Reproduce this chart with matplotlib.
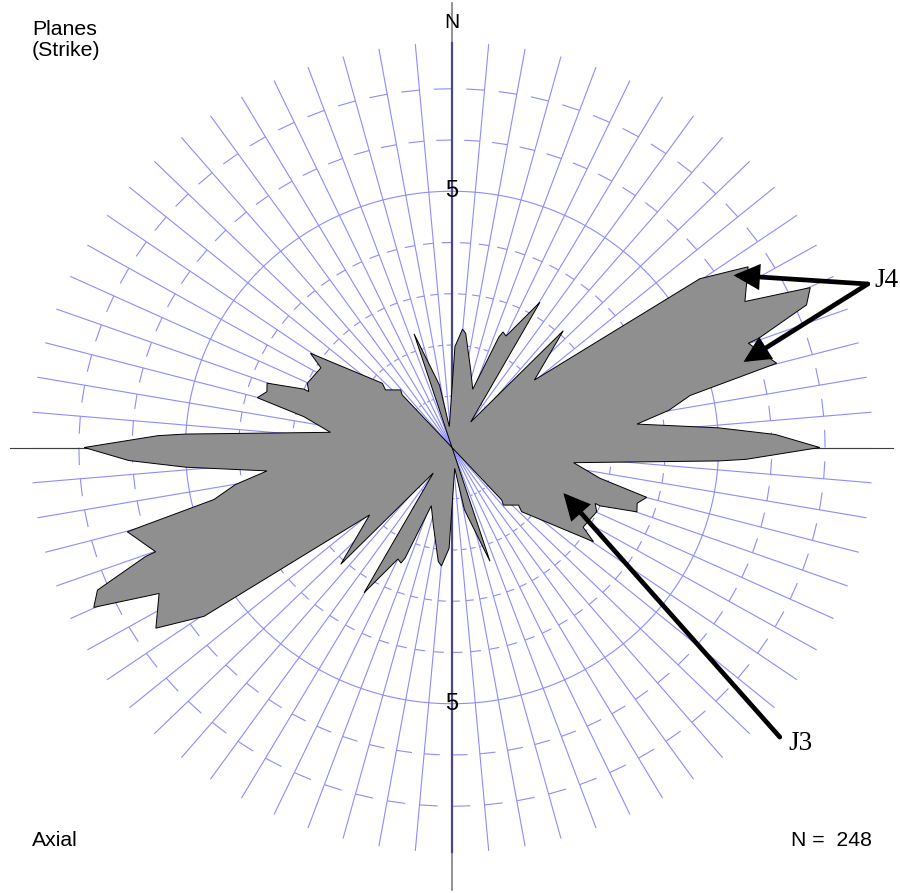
import matplotlib.pyplot as plt
from matplotlib.collections import LineCollection
from matplotlib.patches import Polygon
import numpy as np

# rose outline for the 0-180 half (azimuth clockwise from N, value);
# axial data, so the other half is the same shifted by 180 deg
azimuth = [352.9, 1.6, 4.9, 6.6, 13.1, 18.9, 22.2, 23.0, 25.0, 30.2,
           35.2, 42.5, 49.6, 54.7, 57.6, 62.6, 65.1, 67.3, 69.7, 69.9,
           74.9, 77.2, 79.9, 82.5, 85.6, 87.6, 90.0, 92.4, 93.0, 97.4,
           102.2, 104.9, 107.4, 109.9, 112.3, 112.1, 114.8, 122.3, 124.7, 133.8,
           132.0, 139.4, 137.7, 145.0, 162.2, 169.1]
value = [0.41, 1.97, 2.32, 2.24, 1.55, 1.20, 2.33, 2.45, 2.40, 3.28,
         0.61, 3.09, 2.03, 5.70, 6.58, 6.19, 7.41, 7.21, 6.13, 5.92,
         6.31, 4.58, 4.13, 3.50, 5.01, 6.07, 6.90, 5.52, 5.01, 2.30,
         2.84, 3.78, 3.64, 3.69, 3.00, 2.90, 2.99, 2.91, 3.23, 1.81,
         1.68, 1.48, 1.39, 0.0, 2.33, 1.24]

spokes = np.arange(0, 360, 5)
tick_rings = [1, 2, 3, 4, 6, 7]
label_ring = 5
r_out = 7.9
n_total = 248

# joint sets: label position and arrow targets (x, y in plot units)
j4_label = (7.92, 3.25)
j4_tail = (7.80, 3.19)
j4_heads = [(5.28, 3.36), (5.47, 1.67)]
j3_label = (6.32, -5.77)
j3_tail = (6.15, -5.65)
j3_heads = [(2.09, -0.89)]


def xy(az, r):
    a = np.radians(az)
    return np.asarray(r) * np.sin(a), np.asarray(r) * np.cos(a)


fig = plt.figure(figsize=(9, 8.93), dpi=100)
ax = fig.add_axes([0, 0, 1, 1])
ax.set_xlim(-452 / 53.3, 448 / 53.3)
ax.set_ylim(-445.5 / 51.25, 447.5 / 51.25)
ax.axis('off')

blue = '#8c8cff'

# spokes
segs = []
for a in spokes:
    x, y = xy(a, r_out)
    segs.append([(0, 0), (x, y)])
ax.add_collection(LineCollection(segs, colors=blue, linewidths=0.8, zorder=1))

# dashed rings as short ticks on each spoke
ticks = []
for a in spokes:
    for r in tick_rings:
        x0, y0 = xy(a - 2.8, r)
        x1, y1 = xy(a, r)
        ticks.append([(x0, y0), (x1, y1)])
ax.add_collection(LineCollection(ticks, colors=blue, linewidths=0.8, zorder=1))

t = np.linspace(0, 360, 721)
cx, cy = xy(t, label_ring)
ax.plot(cx, cy, color=blue, lw=0.8, zorder=1)

# axes
ax.plot([0, 0], [-8.64, 8.68], color='#808080', lw=1.2, zorder=1)
ax.plot([0, 0], [-r_out, r_out], color='#4a4a80', lw=1.6, zorder=1.5)
ax.plot([-8.3, 8.28], [0, 0], color='#404040', lw=0.8, zorder=1.5)

# rose polygon
az_full = np.concatenate([azimuth, np.array(azimuth) + 180])
val_full = np.concatenate([value, value])
px, py = xy(az_full, val_full)
ax.add_patch(Polygon(np.column_stack([px, py]), closed=True, facecolor='#8f8f8f',
                     edgecolor='black', lw=0.7, zorder=3))

sans = 'Liberation Sans'
ax.text(0, 8.29, 'N', ha='center', va='center', fontsize=15, family=sans, zorder=5)
ax.text(0, label_ring, str(label_ring), ha='center', va='center', fontsize=17, family=sans, zorder=5)
ax.text(0, -label_ring, str(label_ring), ha='center', va='center', fontsize=17, family=sans, zorder=5)

fig.text(32 / 900, 1 - 20 / 893, 'Planes\n(Strike)', ha='left', va='top', fontsize=15.3,
         family=sans, linespacing=1.15)
fig.text(32 / 900, 1 - 840 / 893, 'Axial', ha='left', va='center', fontsize=15.3, family=sans)
fig.text(872 / 900, 1 - 840 / 893, 'N =  %d' % n_total, ha='right', va='center',
         fontsize=15.3, family=sans)

# annotations
arrow = dict(arrowstyle='-|>,head_length=0.85,head_width=0.42', lw=3.4, color='black',
             mutation_scale=16, shrinkA=0, shrinkB=0, joinstyle='miter')
for h in j4_heads:
    ax.annotate('', xy=h, xytext=j4_tail, arrowprops=arrow, zorder=6)
for h in j3_heads:
    ax.annotate('', xy=h, xytext=j3_tail, arrowprops=arrow, zorder=6)
ax.text(*j4_label, 'J4', ha='left', va='center', fontsize=19.5, family='Liberation Serif', zorder=6)
ax.text(*j3_label, 'J3', ha='left', va='center', fontsize=19.5, family='Liberation Serif', zorder=6)

fig.savefig('out.png', dpi=100)
